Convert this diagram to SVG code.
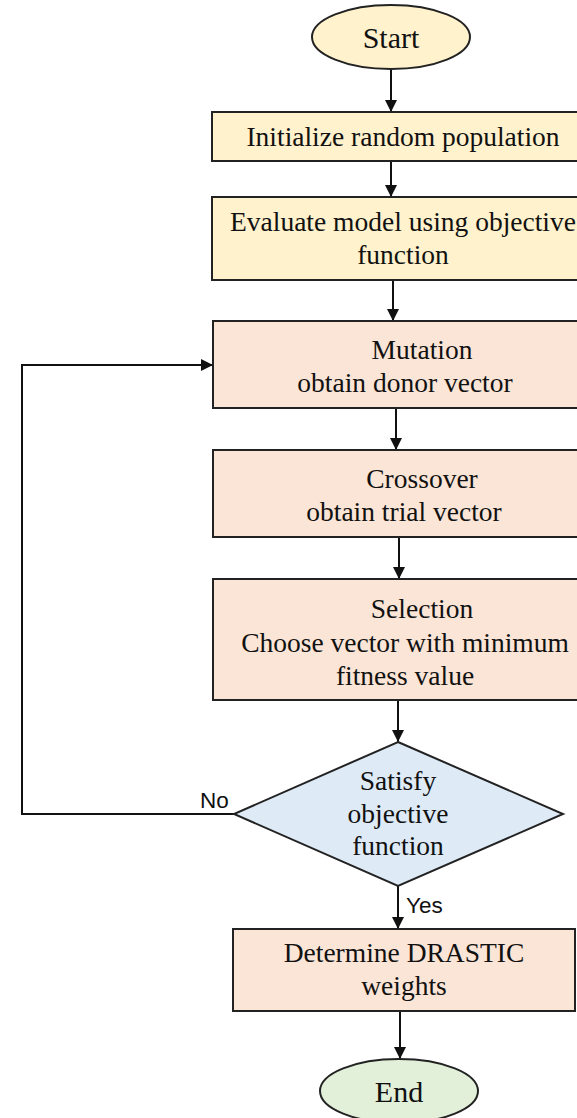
<svg xmlns="http://www.w3.org/2000/svg" width="577" height="1118" viewBox="0 0 577 1118">
<style>
.t{font-family:"Liberation Serif","Times New Roman",serif;font-size:27.5px;fill:#111;text-anchor:middle}
.big{font-size:30px}
.lbl{font-family:"Liberation Sans",Arial,sans-serif;font-size:22.5px;fill:#111}
.y{fill:#FFF2CC;stroke:#222;stroke-width:2}
.p{fill:#FBE5D6;stroke:#222;stroke-width:2}
.b{fill:#DEEBF7;stroke:#222;stroke-width:2}
.g{fill:#E2F0D9;stroke:#222;stroke-width:2}
.c{fill:none;stroke:#111;stroke-width:2;marker-end:url(#ah)}
</style>
<defs>
<marker id="ah" markerUnits="userSpaceOnUse" markerWidth="12" markerHeight="12" refX="12" refY="6" orient="auto">
<path d="M0,0 L12,6 L0,12 z" fill="#111"/>
</marker>
</defs>
<rect width="577" height="1118" fill="#fff"/>
<g id="connectors">
<line class="c" x1="391" y1="69" x2="391" y2="112"/>
<line class="c" x1="391" y1="161" x2="391" y2="197"/>
<line class="c" x1="393" y1="280" x2="393" y2="321"/>
<line class="c" x1="396" y1="408" x2="396" y2="450"/>
<line class="c" x1="399" y1="537" x2="399" y2="579"/>
<line class="c" x1="398" y1="700" x2="398" y2="742"/>
<line class="c" x1="398" y1="886" x2="398" y2="929"/>
<line class="c" x1="400" y1="1012" x2="400" y2="1059"/>
<polyline class="c" points="234,814 22,814 22,365 213,365"/>
<text class="lbl" x="200" y="808">No</text>
<text class="lbl" x="406" y="913">Yes</text>
</g>
<g id="start">
<ellipse class="y" cx="391" cy="37" rx="79" ry="32"/>
<text class="t big" x="391" y="48">Start</text>
</g>
<g id="init">
<rect class="y" x="212" y="112" width="382" height="49"/>
<text class="t" x="403" y="146">Initialize random population</text>
</g>
<g id="evaluate">
<rect class="y" x="212" y="197" width="382" height="83"/>
<text class="t" x="403" y="231">Evaluate model using objective</text>
<text class="t" x="403" y="264">function</text>
</g>
<g id="mutation">
<rect class="p" x="213" y="321" width="381" height="87"/>
<text class="t" x="422" y="359">Mutation</text>
<text class="t" x="405" y="392">obtain donor vector</text>
</g>
<g id="crossover">
<rect class="p" x="213" y="450" width="381" height="87"/>
<text class="t" x="422" y="488">Crossover</text>
<text class="t" x="404" y="521">obtain trial vector</text>
</g>
<g id="selection">
<rect class="p" x="213" y="579" width="381" height="121"/>
<text class="t" x="422" y="618">Selection</text>
<text class="t" x="405" y="652">Choose vector with minimum</text>
<text class="t" x="405" y="685">fitness value</text>
</g>
<g id="decision">
<polygon class="b" points="398,742 563,814 398,886 234,814"/>
<text class="t" x="398" y="790">Satisfy</text>
<text class="t" x="398" y="823">objective</text>
<text class="t" x="398" y="855">function</text>
</g>
<g id="determine">
<rect class="p" x="233" y="929" width="342" height="82"/>
<text class="t" x="404" y="962">Determine DRASTIC</text>
<text class="t" x="404" y="995">weights</text>
</g>
<g id="end">
<ellipse class="g" cx="399" cy="1091" rx="79" ry="32"/>
<text class="t big" x="399" y="1102">End</text>
</g>
</svg>
